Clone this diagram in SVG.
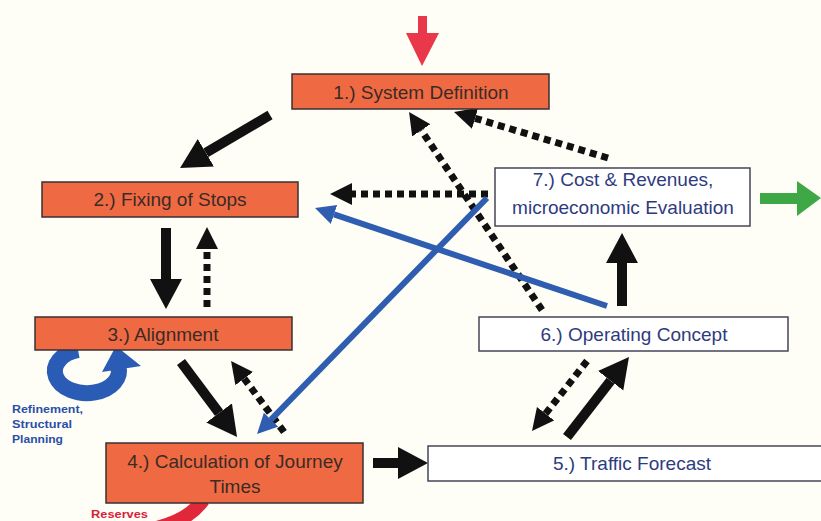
<svg xmlns="http://www.w3.org/2000/svg" width="821" height="521" viewBox="0 0 821 521">
<defs>
<style>
.bg{fill:#fefef6}
.ob{fill:#ef6a43;stroke:#3a3030;stroke-width:1.5}
.wb{fill:#ffffff;stroke:#45455a;stroke-width:1.5}
.ot{font-family:"Liberation Sans",Arial,sans-serif;font-size:19px;fill:#3b2a26;text-anchor:middle}
.wt{font-family:"Liberation Sans",Arial,sans-serif;font-size:19px;fill:#2e3b80;text-anchor:middle}
.solid{stroke:#111;stroke-width:10;fill:none;marker-end:url(#hs)}
.dot{stroke:#111;stroke-width:7;fill:none;stroke-dasharray:7 5;marker-end:url(#hd)}
.blue{stroke:#2f5db0;stroke-width:6;fill:none;marker-end:url(#hb)}
.small{font-family:"Liberation Sans",Arial,sans-serif;font-size:11px;font-weight:bold}
</style>
<marker id="hs" markerUnits="userSpaceOnUse" markerWidth="32" markerHeight="34" refX="0" refY="16" orient="auto"><path d="M0,0 L0,32 L30,16 Z" fill="#111"/></marker>
<marker id="hd" markerUnits="userSpaceOnUse" markerWidth="24" markerHeight="24" refX="0" refY="11" orient="auto"><path d="M0,0 L0,22 L22,11 Z" fill="#111"/></marker>
<marker id="hb" markerUnits="userSpaceOnUse" markerWidth="22" markerHeight="22" refX="0" refY="10" orient="auto"><path d="M0,0 L0,20 L20,10 Z" fill="#2f5db0"/></marker>
</defs>
<rect class="bg" x="0" y="0" width="821" height="521"/>

<g id="side-elements">
<path d="M78,350 A32,22 0 1 0 118,366" fill="none" stroke="#2a5cb5" stroke-width="16"/>
<polygon points="102,372 141,366 116,346" fill="#2a5cb5"/>
<text class="small" fill="#2a4fa8" x="12" y="413" textLength="71" lengthAdjust="spacingAndGlyphs">Refinement,</text>
<text class="small" fill="#2a4fa8" x="12" y="428" textLength="60" lengthAdjust="spacingAndGlyphs">Structural</text>
<text class="small" fill="#2a4fa8" x="12" y="443" textLength="51" lengthAdjust="spacingAndGlyphs">Planning</text>
<path d="M148,530 Q188,522 203,500" fill="none" stroke="#e0283a" stroke-width="14"/>
<text class="small" fill="#d8203a" x="91" y="518" textLength="57" lengthAdjust="spacingAndGlyphs">Reserves</text>
<polygon points="418,16 427,16 427,33 439,33 422,66 406,33 418,33" fill="#e8384a"/>
<polygon points="760,193 797,193 797,181 821,198 797,216 797,204 760,204" fill="#3da845"/>
</g>

<g id="connectors">
<line class="dot" x1="207" y1="307" x2="207" y2="249"/>
<line class="dot" x1="284" y1="432" x2="244.2" y2="378.6"/>
<line class="dot" x1="587" y1="361" x2="545.6" y2="413.7"/>
<line class="dot" x1="608" y1="158" x2="475.1" y2="118.3"/>
<line class="dot" x1="542" y1="310" x2="421.3" y2="130.3"/>
<line class="dot" x1="488" y1="194" x2="352" y2="194"/>
<line class="blue" x1="607" y1="306" x2="334" y2="214.4"/>
<line class="blue" x1="487" y1="198" x2="271" y2="419.7"/>
<line class="solid" x1="270" y1="115" x2="205.9" y2="152.8"/>
<line class="solid" x1="166" y1="228" x2="166" y2="279"/>
<line class="solid" x1="181" y1="362" x2="219.1" y2="413"/>
<line class="solid" x1="373" y1="463" x2="398" y2="463"/>
<line class="solid" x1="567" y1="437" x2="610.6" y2="380.7"/>
<line class="solid" x1="622" y1="306" x2="622" y2="263"/>
</g>

<g id="node1"><rect class="ob" x="292" y="74" width="257" height="35"/><text class="ot" x="421" y="99">1.) System Definition</text></g>
<g id="node2"><rect class="ob" x="42" y="182" width="256" height="35"/><text class="ot" x="170" y="206">2.) Fixing of Stops</text></g>
<g id="node3"><rect class="ob" x="35" y="317" width="257" height="33"/><text class="ot" x="163" y="341">3.) Alignment</text></g>
<g id="node4"><rect class="ob" x="106" y="443" width="257" height="60"/><text class="ot" x="235" y="468">4.) Calculation of Journey</text><text class="ot" x="235" y="493">Times</text></g>
<g id="node5"><rect class="wb" x="428" y="446" width="396" height="35"/><text class="wt" x="632" y="470">5.) Traffic Forecast</text></g>
<g id="node6"><rect class="wb" x="479" y="317" width="309" height="34"/><text class="wt" x="634" y="341">6.) Operating Concept</text></g>
<g id="node7"><rect class="wb" x="495" y="168" width="255" height="58"/><text class="wt" x="623" y="186">7.) Cost &amp; Revenues,</text><text class="wt" x="623" y="214">microeconomic Evaluation</text></g>
</svg>
